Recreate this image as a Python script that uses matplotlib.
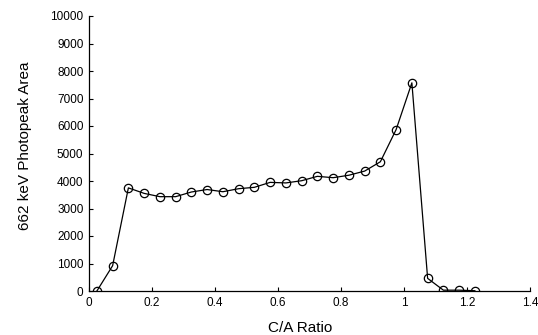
import matplotlib
matplotlib.use("Agg")
import matplotlib.pyplot as plt

plt.rcParams['font.family'] = ['Liberation Sans', 'DejaVu Sans']

ca_ratio = [0.025, 0.075, 0.125, 0.175, 0.225, 0.275, 0.325, 0.375, 0.425, 0.475,
            0.525, 0.575, 0.625, 0.675, 0.725, 0.775, 0.825, 0.875, 0.925, 0.975,
            1.025, 1.075, 1.125, 1.175, 1.225]
photopeak_area = [0, 920, 3750, 3550, 3430, 3430, 3600, 3690, 3610, 3720,
                  3770, 3950, 3930, 4010, 4170, 4120, 4210, 4360, 4700, 5870,
                  7570, 460, 30, 30, 10]
xticks = [0, 0.2, 0.4, 0.6, 0.8, 1, 1.2, 1.4]
xtick_labels = ["0", "0.2", "0.4", "0.6", "0.8", "1", "1.2", "1.4"]
yticks = [0, 1000, 2000, 3000, 4000, 5000, 6000, 7000, 8000, 9000, 10000]

W, H = 538, 335
fig = plt.figure(figsize=(W/100, H/100), dpi=100)
ax = fig.add_axes([89/W, 1 - 291/H, (530-89)/W, (291-16)/H])
ax.plot(ca_ratio, photopeak_area, color='black', linewidth=0.9,
        marker='o', markersize=6, markerfacecolor='none',
        markeredgecolor='black', markeredgewidth=0.9)
ax.set_xlim(0, 1.4)
ax.set_ylim(0, 10000)
ax.set_xticks(xticks)
ax.set_xticklabels(xtick_labels)
ax.set_yticks(yticks)
ax.tick_params(direction='in', length=3, width=0.8, labelsize=8.5, pad=4)
for s in ['top', 'right']:
    ax.spines[s].set_visible(False)
for s in ['left', 'bottom']:
    ax.spines[s].set_linewidth(0.9)
ax.set_xlabel("C/A Ratio", fontsize=11)
ax.set_ylabel("662 keV Photopeak Area", fontsize=11)
ax.xaxis.set_label_coords((300-89)/(530-89), -(328-291)/(291-16))
ax.xaxis.label.set_va('center')
ax.yaxis.set_label_coords(-(89-25)/(530-89), (291-146)/(291-16))
ax.yaxis.label.set_va('center')
fig.savefig("out.png", dpi=100)
